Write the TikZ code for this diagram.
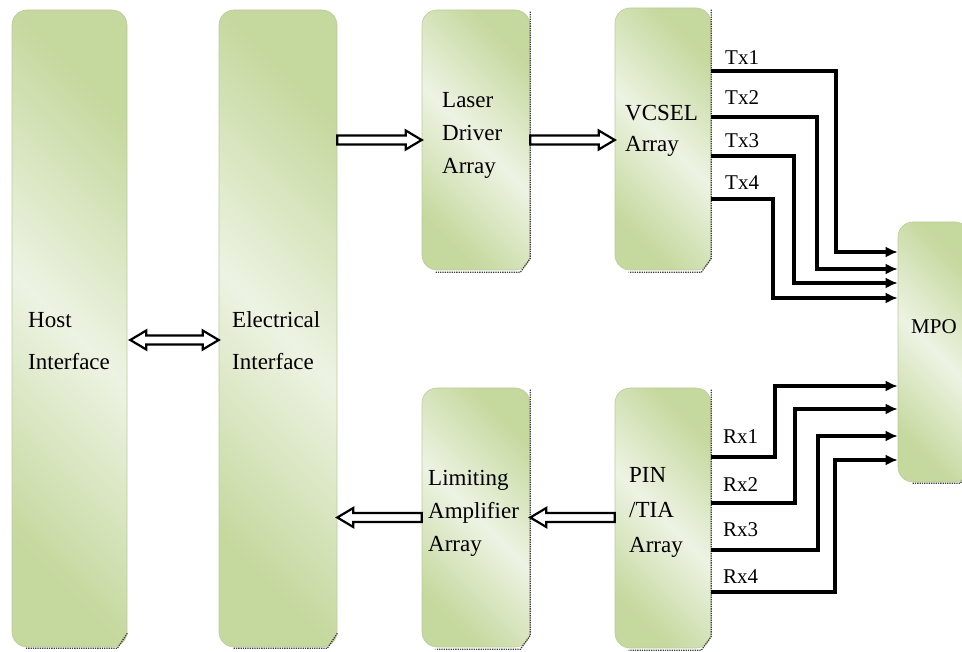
\documentclass[tikz,border=0pt]{standalone}
\usepackage{fontspec}
\setmainfont{Liberation Serif}
\usetikzlibrary{arrows.meta,positioning,calc}
\definecolor{boxlight}{HTML}{EDF3E3}
\definecolor{boxgreen}{HTML}{C5D89D}
\definecolor{boxline}{HTML}{BCCB9E}

\tikzset{
  blk/.style={rounded corners=15pt, draw=boxline, line width=0.6pt, inner sep=0pt,
    left color=boxgreen, right color=boxgreen, middle color=boxlight, shading angle=-45},
  lbl/.style={align=left, anchor=west, inner sep=0pt},
  sig/.style={line width=3.2pt, line join=miter, -{Latex[length=12pt,width=11pt]}},
  sigl/.style={anchor=base west, inner sep=0pt, font=\fontsize{21}{25}\selectfont},
  hollow/.style={draw=black, fill=white, line width=2.2pt, line join=miter},
  dotedge/.style={densely dotted, line width=1.3pt, black!75},
}

% hollow arrow: #1 tail, #2 tip, #3 = 1 rightwards / -1 leftwards
\newcommand{\hollowarrow}[3]{%
  \draw[hollow] ($(#1)+(0,-4.5)$) -- ($(#2)+({-16*#3},-4.5)$) -- ($(#2)+({-16*#3},-9.5)$)
    -- (#2) -- ($(#2)+({-16*#3},9.5)$) -- ($(#2)+({-16*#3},4.5)$) -- ($(#1)+(0,4.5)$) -- cycle;}
% hollow arrow with a head at both ends, #1 left, #2 right
\newcommand{\hollowboth}[2]{%
  \draw[hollow] ($(#1)+(16,-4.5)$) -- ($(#2)+(-16,-4.5)$) -- ($(#2)+(-16,-9.5)$)
    -- (#2) -- ($(#2)+(-16,9.5)$) -- ($(#2)+(-16,4.5)$) -- ($(#1)+(16,4.5)$)
    -- ($(#1)+(16,9.5)$) -- (#1) -- ($(#1)+(16,-9.5)$) -- cycle;}

\begin{document}
\begin{tikzpicture}[x=1pt,y=-1pt,font=\fontsize{23}{33}\selectfont]
  \useasboundingbox (0,0) rectangle (962,652);

  % blocks
  \node[blk, minimum width=115pt, minimum height=637pt] (host) at (69.5,328.5) {};
  \node[blk, minimum width=118pt, minimum height=637pt] (elec) at (278,328.5) {};
  \node[blk, minimum width=108pt, minimum height=260pt] (laser) at (476,140) {};
  \node[blk, minimum width=96pt, minimum height=262pt] (vcsel) at (663,139) {};
  \node[blk, minimum width=108pt, minimum height=259pt] (limit) at (476,517.5) {};
  \node[blk, minimum width=96pt, minimum height=260pt] (pin) at (663,518) {};
  \node[blk, minimum width=72pt, minimum height=260pt] (mpo) at (934,352) {};

  % shadow edges
  \foreach \b in {laser,vcsel,limit,pin}
    \draw[dotedge] ([yshift=-2pt]\b.north east) -- ([yshift=12pt]\b.south east)
      -- ([xshift=-10pt,yshift=-2pt]\b.south east) -- ([xshift=14pt,yshift=-2pt]\b.south west);
  \foreach \b in {host,elec,mpo}
    \draw[dotedge] ([yshift=14pt]\b.south east) -- ([xshift=-10pt,yshift=-1pt]\b.south east)
      -- ([xshift=14pt,yshift=-1pt]\b.south west);

  % texts
  \node[lbl, font=\fontsize{23}{42}\selectfont] (hostt) at (28,341) {Host\\Interface};
  \node[lbl, font=\fontsize{23}{42}\selectfont] (elect) at (232,341) {Electrical\\Interface};
  \node[lbl] (lasert) at (442,135) {Laser\\Driver\\Array};
  \node[lbl, font=\fontsize{23}{31}\selectfont] (vcselt) at (625,131) {VCSEL\\Array};
  \node[lbl] (limitt) at (428,513) {Limiting\\Amplifier\\Array};
  \node[lbl, font=\fontsize{23}{35}\selectfont] (pint) at (629,512) {PIN\\/TIA\\Array};
  \node[lbl, font=\fontsize{21}{25}\selectfont] (mpot) at (911,327) {MPO};

  % block arrows
  \coordinate (hostio) at ($(host.east)+(3,11.5)$);
  \hollowboth{hostio}{elec.west |- hostio}
  \coordinate (laserin) at (elec.east |- laser.west);
  \hollowarrow{laserin}{laser.west}{1}
  \coordinate (vcselin) at (vcsel.west |- laser.east);
  \hollowarrow{laser.east}{vcselin}{1}
  \coordinate (limitin) at (pin.west |- limit.east);
  \hollowarrow{limitin}{limit.east}{-1}
  \coordinate (elecin) at (elec.east |- limit.west);
  \hollowarrow{limit.west}{elecin}{-1}

  % transmit lanes
  \foreach \i/\ys/\xt/\ye/\yl in {1/71/836/252/65, 2/117/817/269/105, 3/156/794/283/148, 4/199/773/298/190} {
    \draw[sig] (vcsel.east |- 0,\ys) -- (\xt,\ys) |- (mpo.west |- 0,\ye);
    \node[sigl] (tx\i) at (725,\yl) {Tx\i};
  }
  % receive lanes
  \foreach \i/\ys/\xt/\ye/\yl in {1/457/775/386/443, 2/503/795/409/491, 3/550/818/436/536, 4/592/835/460/583} {
    \draw[sig] (pin.east |- 0,\ys) -- (\xt,\ys) |- (mpo.west |- 0,\ye);
    \node[sigl] (rx\i) at (723,\yl) {Rx\i};
  }
\end{tikzpicture}
\end{document}
